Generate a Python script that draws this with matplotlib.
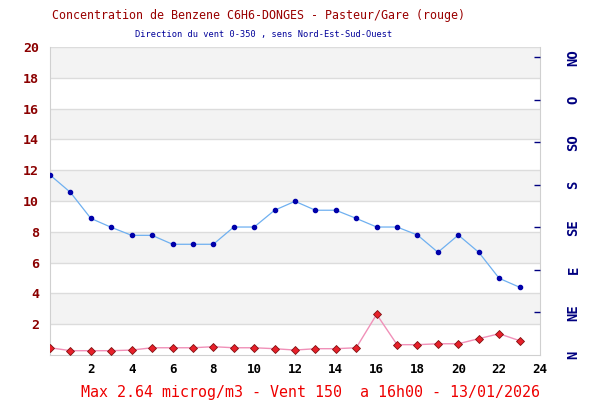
import numpy as np
import matplotlib
matplotlib.use("Agg")
import matplotlib.pyplot as plt

# heures et mesures
heures = list(range(24))
benzene = [0.47, 0.28, 0.28, 0.28, 0.32, 0.47, 0.47, 0.47, 0.54, 0.47, 0.47, 0.41,
           0.32, 0.41, 0.41, 0.47, 2.64, 0.67, 0.67, 0.73, 0.73, 1.06, 1.38, 0.93]
vent = [11.69, 10.56, 8.87, 8.29, 7.77, 7.77, 7.19, 7.19, 7.19, 8.31, 8.31, 9.40,
        9.98, 9.40, 9.40, 8.87, 8.31, 8.31, 7.79, 6.67, 7.79, 6.67, 4.98, 4.40]
y_ticks = [2, 4, 6, 8, 10, 12, 14, 16, 18, 20]
x_ticks = [2, 4, 6, 8, 10, 12, 14, 16, 18, 20, 22, 24]
directions = ['N', 'NE', 'E', 'SE', 'S', 'SO', 'O', 'NO']

mono = 'DejaVu Sans Mono'

fig = plt.figure(figsize=(6, 4), dpi=100)
ax = fig.add_axes([50/600, 45/400, 490/600, 308/400])

# bandes grises alternees
for y0 in range(0, 20, 2):
    if (y0 // 2) % 2 == 1:
        ax.axhspan(y0, y0 + 2, color='#f3f3f3', zorder=0, lw=0)
for y in y_ticks:
    ax.axhline(y, color='#dcdcdc', lw=1, zorder=1)

ax.plot(heures, vent, '-', color='#6fb0f0', lw=0.9, zorder=3)
ax.plot(heures, vent, 'o', color='#0000aa', ms=3, zorder=4)
ax.plot(heures, benzene, '-', color='#f090b8', lw=1, zorder=3)
ax.plot(heures, benzene, 'D', color='#e8202a', mec='#801010', mew=0.6, ms=4.5, zorder=4)

ax.set_xlim(0, 24)
ax.set_ylim(0, 20)
ax.set_xticks(x_ticks)
ax.set_yticks(y_ticks)
ax.tick_params(axis='both', length=0)
ax.tick_params(axis='y', pad=8)
ax.tick_params(axis='x', pad=6)
for lab in ax.get_yticklabels():
    lab.set_fontfamily(mono)
    lab.set_fontweight('bold')
    lab.set_fontsize(9.5)
    lab.set_color('#8b0000')
for lab in ax.get_xticklabels():
    lab.set_fontfamily(mono)
    lab.set_fontweight('bold')
    lab.set_fontsize(9)
    lab.set_color('black')
for s in ['left', 'bottom', 'right']:
    ax.spines[s].set_color('#d0d0d0')
ax.spines['top'].set_visible(False)

# axe direction du vent
ax2 = ax.twinx()
ax2.set_ylim(0, 326)
ax2.set_yticks([45 * i for i in range(8)])
ax2.set_yticklabels(directions, rotation=90, va='center', family=mono,
                    fontweight='bold', fontsize=10, color='#000080')
ax2.tick_params(axis='y', direction='in', length=4, width=1, color='#000080', pad=19)
ax2.yaxis.get_major_ticks()[0].tick2line.set_visible(False)
for s in ax2.spines.values():
    s.set_visible(False)

fig.text(258/600, 1 - 15/400, 'Concentration de Benzene C6H6-DONGES - Pasteur/Gare (rouge)',
         ha='center', va='center', family=mono, fontsize=8.4, color='#990000')
fig.text(264/600, 1 - 35/400, 'Direction du vent 0-350 , sens Nord-Est-Sud-Ouest',
         ha='center', va='center', family=mono, fontsize=6.2, color='#000099')
fig.text(310/600, 1 - 392/400, 'Max 2.64 microg/m3 - Vent 150  a 16h00 - 13/01/2026',
         ha='center', va='center', family=mono, fontsize=10.8, color='#ee0000')

fig.savefig('out.png', dpi=100)
